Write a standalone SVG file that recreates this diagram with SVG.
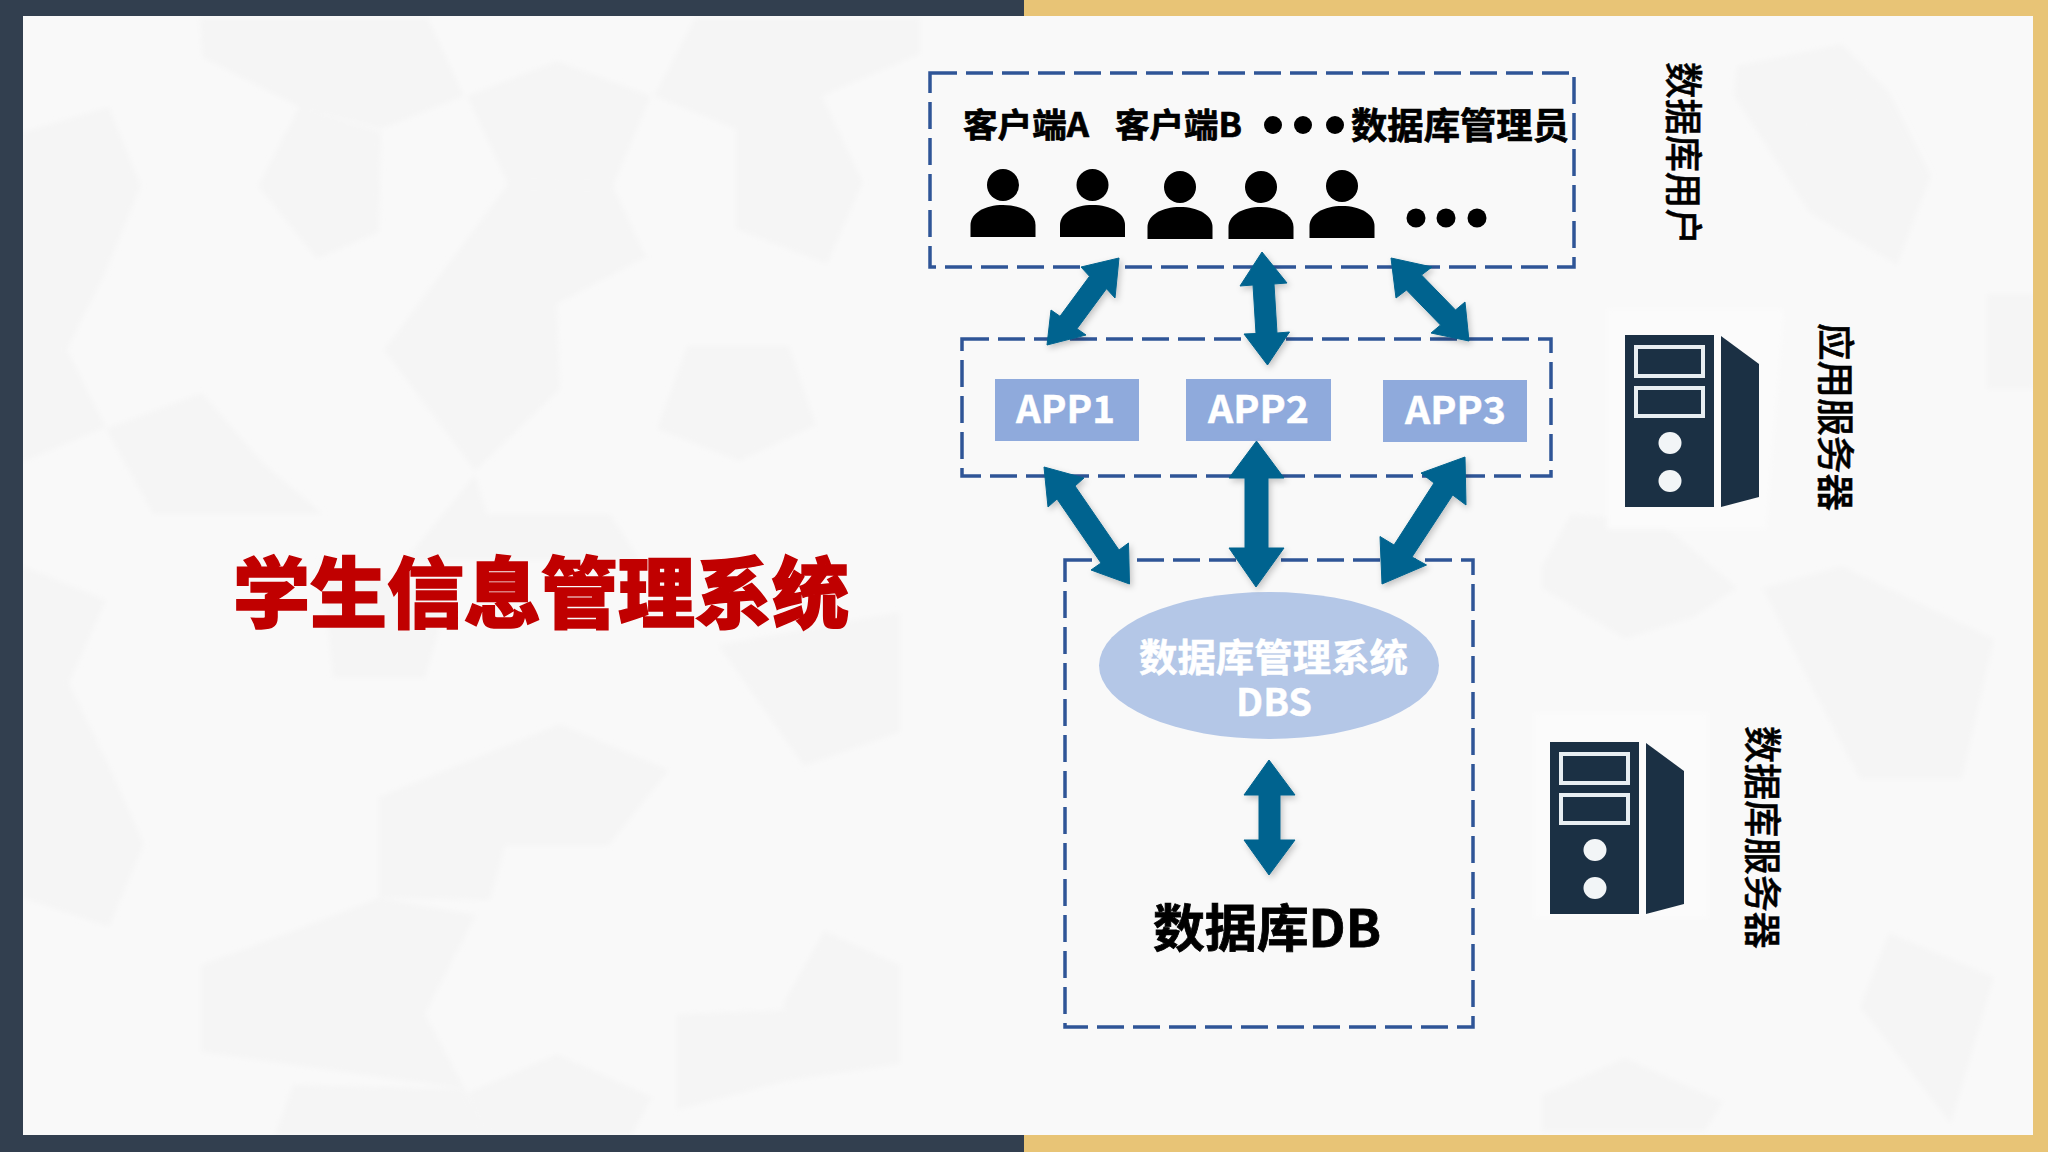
<svg xmlns="http://www.w3.org/2000/svg" xmlns:xlink="http://www.w3.org/1999/xlink" width="2048" height="1152" viewBox="0 0 2048 1152">
<style>
text{font-family:"Noto Sans CJK SC","Noto Sans",sans-serif;font-weight:700}
.box{fill:none;stroke:#2f5597;stroke-width:3.5;stroke-dasharray:27 9}
.lbl{fill:#000;font-size:33px;stroke:#000;stroke-width:0.7}
.vert{fill:#000;font-size:38px;font-weight:500;stroke:#000;stroke-width:0.5}
.app{fill:#8faadc}
.appt{fill:#fff;font-size:38px;stroke:#fff;stroke-width:0.4}
.arrow{fill:#02648f;stroke:#02648f;stroke-width:1;filter:url(#sh)}
.p1 polygon{fill:#f5f5f5}
.p2 polygon{fill:#fbfbfb}
</style>
<defs>
<filter id="sh" x="-20%" y="-20%" width="140%" height="140%"><feDropShadow dx="2" dy="3" stdDeviation="3" flood-color="#000" flood-opacity="0.22"/></filter>
<filter id="soft"><feGaussianBlur stdDeviation="2.5"/></filter>
<g id="person"><ellipse cx="0" cy="16" rx="16" ry="16"/><path d="M-32.500 68V56C-32.500 44-18 36 0 36S32.500 44 32.500 56V68Z"/></g>
<g id="server">
<rect x="0" y="0" width="89" height="172" fill="#1b3044"/>
<path d="M96 1L134 29V162L96 172Z" fill="#1b3044"/>
<rect x="11" y="12" width="67" height="29" fill="none" stroke="#e8eef2" stroke-width="4"/>
<rect x="11" y="53" width="67" height="28" fill="none" stroke="#e8eef2" stroke-width="4"/>
<ellipse cx="45" cy="108" rx="11.500" ry="11" fill="#f2f5f7"/>
<ellipse cx="45" cy="146" rx="11.500" ry="11" fill="#f2f5f7"/>
</g>
</defs>
<g id="background">
<rect width="2048" height="1152" fill="#f9f9f9"/>
<g class="p1" filter="url(#soft)">
<polygon points="200,18 428,18 464,96 381,129 299,107 202,57"/>
<polygon points="299,107 381,132 379,232 317,259 258,186"/>
<polygon points="557,61 651,96 613,186 508,184 467,96"/>
<polygon points="508,184 613,186 646,257 557,304 560,389 475,471 384,350 464,243"/>
<polygon points="695,18 920,18 920,54 822,96 863,182 827,264 736,229 736,129 654,96"/>
<polygon points="687,346 789,346 816,425 739,461 657,429"/>
<polygon points="23,132 109,107 141,186 106,271 67,350 106,427 23,462"/>
<polygon points="202,393 264,464 323,514 153,514 106,429"/>
<polygon points="487,514 610,514 640,560 405,560 475,475"/>
<polygon points="321,560 448,600 425,678 333,678"/>
<polygon points="560,724 669,770 608,846 505,846 490,900 379,898 379,797"/>
<polygon points="23,566 106,600 69,683 109,766 144,844 109,927 23,898"/>
<polygon points="718,645 804,766 900,732 900,612"/>
<polygon points="201,965 293,931 379,898 476,915 425,1014 465,1089 201,1052"/>
<polygon points="557,1054 652,1097 632,1135 488,1135 468,1093"/>
<polygon points="824,931 900,965 900,1064 786,1081 784,1002"/>
<polygon points="677,1014 786,1010 786,1081 677,1110"/>
<polygon points="293,1085 465,1089 488,1135 275,1135"/>
<polygon points="1810,125 1889,92 1931,176 1897,265 1810,213"/>
<polygon points="1737,66 1842,44 1889,92 1810,125 1810,213 1734,96"/>
<polygon points="1542,566 1571,514 1661,522 1737,588 1694,617 1625,639 1542,588"/>
<polygon points="1763,588 1842,566 1994,639 1962,779 1860,779 1806,676"/>
<polygon points="1889,933 1994,977 1951,1124 1860,1007"/>
<polygon points="1542,1095 1625,1058 1723,1102 1705,1131 1542,1131"/>
<polygon points="1987,294 2034,294 2034,389 1987,389"/>
</g>
<g class="p2" filter="url(#soft)">
<polygon points="1607,309 1784,309 1766,529 1607,529"/>
<polygon points="1534,713 1708,713 1708,918 1534,918"/>
</g>
<rect x="0" y="0" width="1024" height="16" fill="#323f4f"/>
<rect x="1024" y="0" width="1024" height="16" fill="#e8c476"/>
<rect x="0" y="1135" width="1024" height="17" fill="#323f4f"/>
<rect x="1024" y="1135" width="1024" height="17" fill="#e8c476"/>
<rect x="0" y="0" width="23" height="1152" fill="#323f4f"/>
<rect x="2033" y="0" width="15" height="1152" fill="#e8c476"/>
</g>
<g id="title"><text x="233" y="622" font-size="77" textLength="616" lengthAdjust="spacingAndGlyphs" style="font-weight:900;stroke:#c00000;stroke-width:1.5" fill="#c00000">学生信息管理系统</text></g>
<g id="users">
<rect class="box" x="930" y="73" width="644" height="194"/>
<text class="lbl" x="963" y="137" textLength="126" lengthAdjust="spacingAndGlyphs">客户端A</text>
<text class="lbl" x="1115" y="137" textLength="127" lengthAdjust="spacingAndGlyphs">客户端B</text>
<circle cx="1273" cy="125" r="9"/><circle cx="1303" cy="125" r="9"/><circle cx="1335" cy="125" r="9"/>
<text class="lbl" x="1351" y="139" style="font-size:36px" textLength="218" lengthAdjust="spacingAndGlyphs">数据库管理员</text>
<use xlink:href="#person" href="#person" x="1003" y="169"/>
<use xlink:href="#person" href="#person" x="1092.500" y="169"/>
<use xlink:href="#person" href="#person" x="1180" y="171"/>
<use xlink:href="#person" href="#person" x="1261" y="171"/>
<use xlink:href="#person" href="#person" x="1342" y="170"/>
<circle cx="1416" cy="218" r="9.500"/><circle cx="1446" cy="218" r="9.500"/><circle cx="1477" cy="218" r="9.500"/>
</g>
<text class="vert" transform="translate(1670,62) rotate(90)" textLength="183" lengthAdjust="spacingAndGlyphs">数据库用户</text>
<g id="apps">
<rect class="box" x="962" y="339" width="589" height="137"/>
<g id="app1"><rect class="app" x="995" y="379" width="144" height="62"/><text class="appt" x="1016" y="423" textLength="99" lengthAdjust="spacingAndGlyphs">APP1</text></g>
<g id="app2"><rect class="app" x="1186" y="379" width="145" height="62"/><text class="appt" x="1208" y="423" textLength="101" lengthAdjust="spacingAndGlyphs">APP2</text></g>
<g id="app3"><rect class="app" x="1383" y="380" width="144" height="62"/><text class="appt" x="1405" y="424" textLength="101" lengthAdjust="spacingAndGlyphs">APP3</text></g>
</g>
<use id="app-server" xlink:href="#server" href="#server" x="1625" y="335"/>
<text class="vert" transform="translate(1822,323) rotate(90)" textLength="188" lengthAdjust="spacingAndGlyphs">应用服务器</text>
<g id="database">
<rect class="box" x="1065" y="560" width="408" height="467"/>
<g id="dbs"><ellipse cx="1269" cy="665.500" rx="170" ry="73.500" fill="#b4c7e7"/>
<text x="1139" y="671" font-size="38" fill="#fff" stroke="#fff" stroke-width="0.5" textLength="269" lengthAdjust="spacingAndGlyphs">数据库管理系统</text>
<text x="1236" y="716" font-size="38" fill="#fff" stroke="#fff" stroke-width="0.4" textLength="76" lengthAdjust="spacingAndGlyphs">DBS</text></g>
<text id="db" x="1153" y="947" font-size="51" stroke="#000" stroke-width="0.8" textLength="228" lengthAdjust="spacingAndGlyphs">数据库DB</text>
</g>
<use id="db-server" xlink:href="#server" href="#server" x="1550" y="742"/>
<text class="vert" transform="translate(1749,726) rotate(90)" textLength="223" lengthAdjust="spacingAndGlyphs">数据库服务器</text>
<g id="connectors">
<polygon class="arrow" points="1119,258 1115,298 1106.500,288.700 1077,328.700 1086,335 1047,345 1051,310 1060,316.300 1089.500,276.300 1081,267"/>
<polygon class="arrow" points="1262,252 1287,283 1274,284 1277,333 1289.500,332 1267.500,365 1244,334 1256,333.500 1253,285 1240,286"/>
<polygon class="arrow" points="1391,258 1432,267 1421.500,275 1455.500,310 1465,302 1469,341 1431,333 1440.500,325 1406.500,290 1396,298"/>
<polygon class="arrow" points="1044,467 1084,478 1075,486 1119,550 1128.500,543 1129.500,584 1091,570 1101,563 1057,499 1048,507"/>
<polygon class="arrow" points="1256.500,441 1284,478 1268,478 1268,548 1284,548 1256,587 1229,548 1245,548 1245,478 1229,478"/>
<polygon class="arrow" points="1465,457 1466,505 1452.700,495 1412,557 1426.500,565 1382,584 1380,536.500 1394,545 1434,483 1421,473"/>
<polygon class="arrow" points="1269,760 1295,795 1280,795 1280,840 1295,840 1269,875 1244,840 1259,840 1259,795 1244,795"/>
</g>
</svg>
